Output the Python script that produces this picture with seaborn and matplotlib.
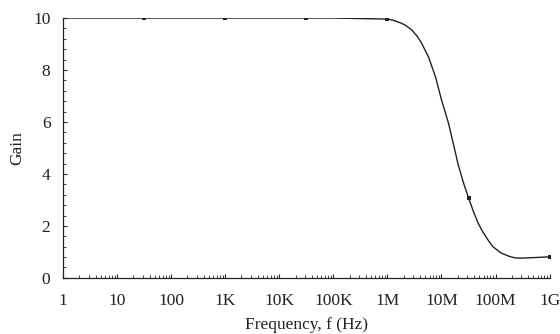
import numpy as np
import pandas as pd
import matplotlib
matplotlib.use('Agg')
import matplotlib.pyplot as plt
import matplotlib.ticker as mticker
import seaborn as sns

# Gain curve (frequency in Hz)
freq = [1, 10, 100, 1e3, 1e4, 1e5, 1e6, 10**6.1, 10**6.26, 10**6.35, 10**6.45,
        10**6.55, 10**6.63, 10**6.76, 10**6.89, 10**7.0, 10**7.13, 10**7.22,
        10**7.31, 10**7.4, 10**7.5, 10**7.6, 10**7.68, 10**7.75, 10**7.86,
        10**7.95, 10**8.1, 10**8.25, 10**8.36, 10**8.45, 10**8.6, 10**8.8, 1e9]
gain = [10.0, 10.0, 10.0, 10.0, 10.0, 10.0, 9.96, 9.92, 9.8, 9.7, 9.54,
        9.3, 9.04, 8.5, 7.73, 6.85, 5.95, 5.15,
        4.35, 3.7, 3.08, 2.5, 2.1, 1.82, 1.46,
        1.2, 0.96, 0.83, 0.77, 0.76, 0.77, 0.79, 0.81]

# marked points on the curve
mark_freq = [10**1.5, 10**3, 10**4.5, 1e6, 10**7.5, 1e9]
mark_gain = [10.0, 10.0, 10.0, 9.96, 3.08, 0.81]

tick_pos = [1, 10, 100, 1e3, 1e4, 1e5, 1e6, 1e7, 1e8, 1e9]
tick_lab = ['1', '10', '100', '1K', '10K', '100K', '1M', '10M', '100M', '1G']

sns.set_theme(style='ticks')
plt.rcParams['font.family'] = ['Liberation Serif', 'DejaVu Serif']

df = pd.DataFrame({'f': freq, 'g': gain})
mk = pd.DataFrame({'f': mark_freq, 'g': mark_gain})

fig = plt.figure(figsize=(5.6, 3.34), dpi=100)
ax = fig.add_axes([0.1125, 0.168, 0.869, 0.778])

sns.lineplot(data=df, x='f', y='g', ax=ax, color='#222222', linewidth=1.0)
sns.scatterplot(data=mk, x='f', y='g', ax=ax, color='#222222', marker='s', s=6,
                linewidth=0, zorder=3)

ax.set_xscale('log')
ax.set_xlim(1, 1e9)
ax.set_ylim(0, 10)
ax.set_xticks(tick_pos)
ax.set_xticklabels(tick_lab)
ax.xaxis.set_minor_locator(mticker.LogLocator(base=10, subs=np.arange(2, 10), numticks=20))
ax.xaxis.set_minor_formatter(mticker.NullFormatter())
ax.set_yticks([0, 2, 4, 6, 8, 10])
ax.yaxis.set_minor_locator(mticker.MultipleLocator(0.4))

ax.tick_params(which='major', direction='in', length=3, width=0.8, labelsize=12.5,
               colors='#222222')
ax.tick_params(which='minor', direction='in', length=2, width=0.6, colors='#222222')
ax.tick_params(axis='x', pad=11)
ax.tick_params(axis='y', pad=9)

for s in ['top', 'right']:
    ax.spines[s].set_visible(False)
for s in ['left', 'bottom']:
    ax.spines[s].set_color('#222222')
    ax.spines[s].set_linewidth(0.9)

ax.set_xlabel('Frequency, f (Hz)', fontsize=12.5, color='#222222', labelpad=6)
ax.set_ylabel('Gain', fontsize=12.5, color='#222222', labelpad=6)

fig.savefig('out.png', dpi=100)
